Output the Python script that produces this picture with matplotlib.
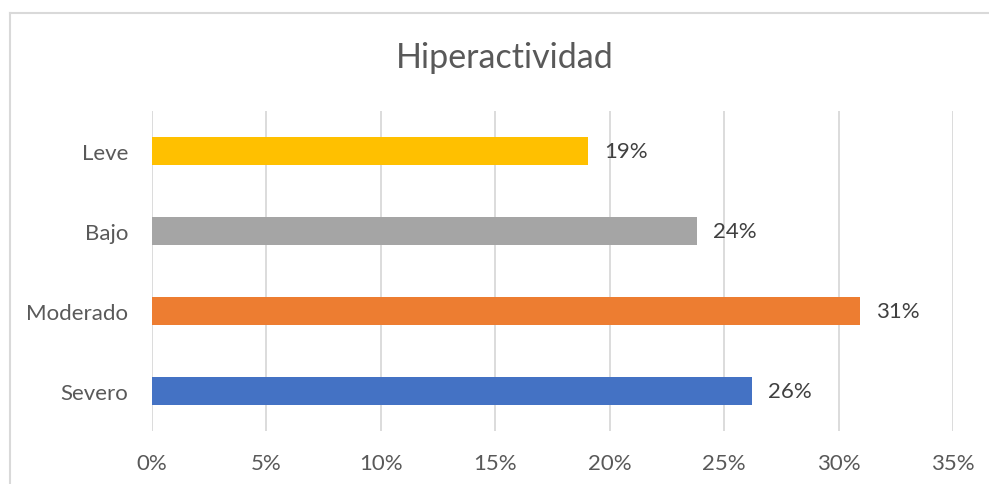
import matplotlib.pyplot as plt
from matplotlib.lines import Line2D

# datos (de abajo hacia arriba)
categorias = ["Severo", "Moderado", "Bajo", "Leve"]
valores = [26.2, 30.95, 23.8, 19.05]
colores = ["#4472C4", "#ED7D31", "#A5A5A5", "#FFC000"]
ticks_x = [0, 5, 10, 15, 20, 25, 30, 35]

plt.rcParams['font.family'] = ['Lato', 'DejaVu Sans']

fig = plt.figure(figsize=(9.89, 4.85), dpi=100)
ax = fig.add_axes([152 / 989, 53 / 485, 801 / 989, 320 / 485])

ax.barh(range(len(categorias)), valores, height=0.35, color=colores, zorder=3)
for i, v in enumerate(valores):
    ax.text(v + 0.7, i, f"{round(v)}%", va="center", ha="left",
            fontsize=16, color="#404040")

ax.set_xlim(0, 35)
ax.set_ylim(-0.5, 3.5)
ax.set_xticks(ticks_x)
ax.set_xticklabels([f"{t}%" for t in ticks_x])
ax.set_yticks(range(len(categorias)))
ax.set_yticklabels(categorias)
ax.tick_params(axis="both", length=0, labelsize=16, labelcolor="#595959")
ax.tick_params(axis="x", pad=16)
ax.tick_params(axis="y", pad=17)
ax.grid(axis="x", color="#D9D9D9", linewidth=1.3, zorder=0)
for s in ax.spines.values():
    s.set_visible(False)

fig.text(0.51, 1 - 58 / 485, "Hiperactividad", ha="center", va="center",
         fontsize=24.5, color="#595959")

# borde del gráfico
fig.add_artist(Line2D([9.5 / 989, 9.5 / 989], [0, 1 - 13.5 / 485],
                      transform=fig.transFigure, color="#D9D9D9", lw=1.5))
fig.add_artist(Line2D([9.5 / 989, 1], [1 - 13.5 / 485, 1 - 13.5 / 485],
                      transform=fig.transFigure, color="#D9D9D9", lw=1.5))

fig.savefig("out.png", dpi=100)
